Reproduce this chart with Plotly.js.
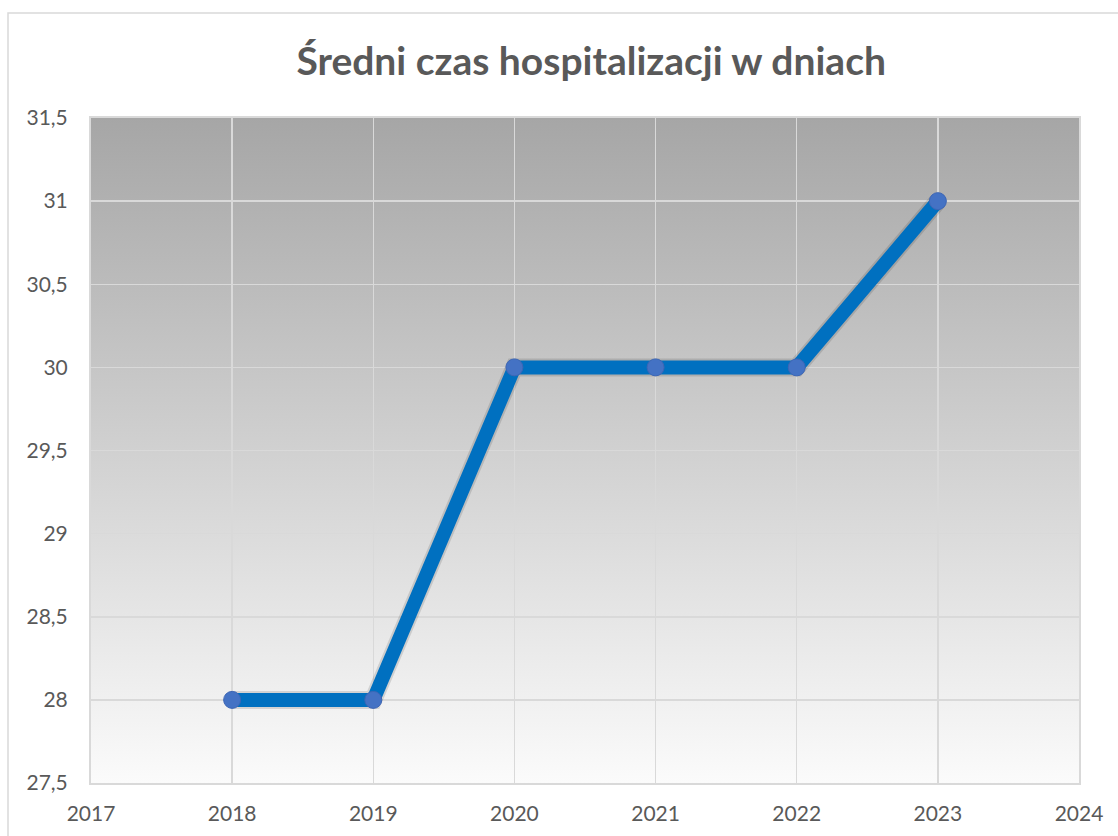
<!DOCTYPE html>
<html><head><meta charset="utf-8">
<script src="https://cdn.plot.ly/plotly-3.0.1.min.js"></script>
<style>html,body{margin:0;padding:0;background:#fff}#c{width:1118px;height:836px}</style>
</head><body><div id="c"></div>
<script>
const years = [2018, 2019, 2020, 2021, 2022, 2023];
const values = [28, 28, 30, 30, 30, 31];
const chartTitle = 'Średni czas hospitalizacji w dniach';

const gradSvg = '<svg xmlns="http://www.w3.org/2000/svg" width="10" height="100" preserveAspectRatio="none"><defs><linearGradient id="g" x1="0" y1="0" x2="0" y2="1"><stop offset="0" stop-color="#a6a6a6"/><stop offset="1" stop-color="#fbfbfb"/></linearGradient></defs><rect width="10" height="100" fill="url(#g)"/></svg>';
const gradUri = 'data:image/svg+xml;base64,' + btoa(gradSvg);

const traces = [
  {x: years, y: values, type: 'scatter', mode: 'lines', hoverinfo: 'skip',
   line: {color: 'rgba(0,0,0,0.12)', width: 18}},
  {x: years, y: values, type: 'scatter', mode: 'lines+markers',
   line: {color: '#0070C0', width: 14},
   marker: {size: 17, color: '#4472C4', line: {color: '#3d66b5', width: 1}}}
];

const layout = {
  width: 1118, height: 836,
  margin: {l: 91, r: 39, t: 118, b: 53},
  paper_bgcolor: '#ffffff',
  plot_bgcolor: 'rgba(0,0,0,0)',
  separators: ', ',
  showlegend: false,
  font: {family: 'Lato, "Open Sans", sans-serif', color: '#595959', size: 21},
  title: {text: '<b>' + chartTitle + '</b>', x: 566/1118, xanchor: 'center', xref: 'paper',
          y: 1 - 61/836, yanchor: 'middle', yref: 'container',
          font: {family: 'Lato, "Open Sans", sans-serif', size: 39, color: '#595959'}},
  xaxis: {range: [2017, 2024], dtick: 1, tick0: 2017, showgrid: true, gridcolor: '#d9d9d9', gridwidth: 1.5,
          zeroline: false, showline: true, linecolor: '#d9d9d9', linewidth: 2, mirror: true,
          ticks: '', ticklabelstandoff: 11, tickfont: {size: 21, color: '#595959'}},
  yaxis: {range: [27.5, 31.5], dtick: 0.5, tick0: 27.5, showgrid: true, gridcolor: '#d9d9d9', gridwidth: 1.5,
          zeroline: false, showline: true, linecolor: '#d9d9d9', linewidth: 2, mirror: true,
          ticks: '', ticklabelstandoff: 17, tickfont: {size: 21, color: '#595959'}},
  images: [{source: gradUri, xref: 'paper', yref: 'paper', x: 0, y: 1, sizex: 1, sizey: 1,
            xanchor: 'left', yanchor: 'top', sizing: 'stretch', layer: 'below'}],
  shapes: [{type: 'rect', xref: 'paper', yref: 'paper', x0: (8-91)/988, x1: (1140-91)/988,
            y0: (783-850)/665, y1: (783-13)/665, line: {color: '#d9d9d9', width: 1.5}, fillcolor: 'rgba(0,0,0,0)', layer: 'below'}]
};
Plotly.newPlot('c', traces, layout, {displayModeBar: false, staticPlot: true});
</script></body></html>
